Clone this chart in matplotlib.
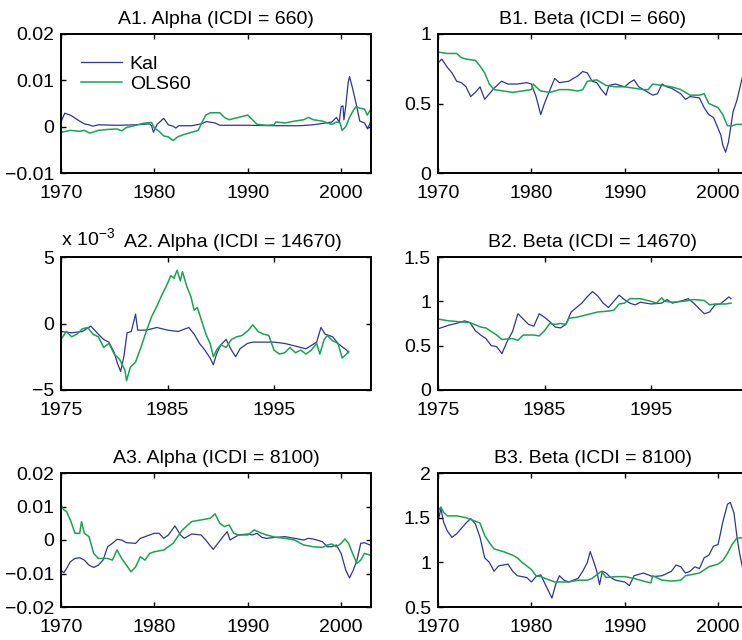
import numpy as np
import matplotlib
matplotlib.use('Agg')
import matplotlib.pyplot as plt

plt.rcParams['font.family'] = ['Liberation Sans', 'DejaVu Sans']
plt.rcParams['font.size'] = 14
plt.rcParams['mathtext.fontset'] = 'custom'
plt.rcParams['mathtext.rm'] = 'Liberation Sans'

BLUE = '#2f3497'
GREEN = '#1aa350'
FS = 14

# (year, value) pairs
a1_kal = [(1970.0, 0.0010), (1970.4, 0.0029), (1971.0, 0.0025), (1972.0, 0.0012), (1972.5, 0.0006),
          (1973.0, 0.0004), (1973.4, 0.0001), (1974.0, 0.0004), (1976.0, 0.0003), (1978.0, 0.0004),
          (1979.5, 0.0006), (1979.7, 0.0002), (1979.9, -0.0012), (1980.3, 0.0005), (1981.0, 0.0018),
          (1981.5, 0.0004), (1982.0, 0.0001), (1982.3, -0.0003), (1982.6, 0.0002), (1984.0, 0.0002),
          (1985.0, 0.0006), (1985.6, 0.0011), (1986.5, 0.0008), (1987.0, 0.0003), (1990.0, 0.0003),
          (1993.0, 0.0002), (1995.5, 0.0002), (1997.0, 0.0004), (1999.0, 0.0010), (1999.5, 0.0020),
          (1999.8, 0.0010), (2000.0, 0.0043), (2000.2, 0.0045), (2000.3, 0.0015), (2000.5, 0.0045),
          (2000.75, 0.0095), (2000.9, 0.0108), (2001.2, 0.0085), (2001.6, 0.0050), (2002.0, 0.0012),
          (2002.5, 0.0008), (2002.85, -0.0005), (2003.1, 0.0008)]
a1_ols = [(1970.0, -0.0012), (1971.0, -0.0008), (1972.0, -0.0010), (1972.5, -0.0008), (1973.1, -0.0014),
          (1974.0, -0.0008), (1975.0, -0.0006), (1976.0, -0.0005), (1976.5, -0.0009), (1977.0, -0.0002),
          (1978.0, 0.0003), (1979.0, 0.0008), (1979.7, 0.0009), (1980.0, -0.0003), (1980.5, -0.0010),
          (1981.0, -0.0020), (1981.5, -0.0022), (1982.0, -0.0030), (1982.5, -0.0022), (1983.0, -0.0018),
          (1984.0, -0.0012), (1984.7, -0.0008), (1985.0, 0.0005), (1985.5, 0.0025), (1986.0, 0.0030),
          (1987.0, 0.0030), (1987.5, 0.0020), (1988.0, 0.0015), (1989.0, 0.0020), (1990.0, 0.0025),
          (1990.5, 0.0015), (1991.0, 0.0005), (1992.0, 0.0003), (1992.8, 0.0004), (1993.0, 0.0010),
          (1994.0, 0.0008), (1995.0, 0.0012), (1996.0, 0.0015), (1996.5, 0.0020), (1997.0, 0.0015),
          (1998.0, 0.0012), (1999.0, 0.0005), (1999.5, 0.0010), (1999.9, 0.0008), (2000.1, -0.0008),
          (2000.5, 0.0000), (2000.9, 0.0020), (2001.3, 0.0035), (2001.6, 0.0043), (2002.0, 0.0040),
          (2002.5, 0.0038), (2002.8, 0.0025), (2003.1, 0.0035)]

b1_kal = [(1970.0, 0.79), (1970.4, 0.82), (1971.0, 0.76), (1971.5, 0.72), (1972.0, 0.66), (1972.5, 0.65),
          (1973.0, 0.62), (1973.5, 0.55), (1974.0, 0.58), (1974.5, 0.62), (1975.0, 0.53), (1975.5, 0.57),
          (1976.0, 0.61), (1976.8, 0.66), (1977.5, 0.64), (1978.5, 0.64), (1979.5, 0.65), (1980.0, 0.64),
          (1980.5, 0.55), (1981.0, 0.42), (1981.4, 0.50), (1982.0, 0.60), (1982.5, 0.68), (1983.0, 0.65),
          (1984.0, 0.66), (1984.5, 0.68), (1985.0, 0.70), (1985.5, 0.73), (1986.0, 0.72), (1986.5, 0.66),
          (1987.0, 0.65), (1987.5, 0.60), (1988.0, 0.56), (1988.3, 0.63), (1989.0, 0.64), (1990.0, 0.62),
          (1990.5, 0.65), (1991.0, 0.67), (1991.5, 0.62), (1992.0, 0.60), (1993.0, 0.56), (1993.5, 0.57),
          (1994.0, 0.64), (1994.5, 0.62), (1995.0, 0.61), (1995.5, 0.59), (1996.0, 0.57), (1996.5, 0.53),
          (1997.0, 0.55), (1998.0, 0.54), (1998.5, 0.47), (1999.0, 0.42), (1999.5, 0.40), (2000.0, 0.32),
          (2000.3, 0.27), (2000.5, 0.20), (2000.8, 0.15), (2001.1, 0.22), (2001.6, 0.44), (2002.0, 0.52),
          (2002.6, 0.69), (2003.1, 0.85)]
b1_ols = [(1970.0, 0.87), (1971.0, 0.86), (1972.0, 0.86), (1972.5, 0.83), (1973.0, 0.82), (1974.0, 0.81),
          (1974.5, 0.77), (1975.0, 0.72), (1975.5, 0.64), (1976.0, 0.60), (1977.0, 0.59), (1978.0, 0.58),
          (1979.0, 0.59), (1980.0, 0.60), (1980.2, 0.64), (1980.5, 0.62), (1981.0, 0.59), (1982.0, 0.58),
          (1982.5, 0.59), (1983.0, 0.60), (1984.0, 0.60), (1985.0, 0.59), (1985.5, 0.60), (1986.0, 0.66),
          (1987.0, 0.67), (1987.5, 0.65), (1988.0, 0.63), (1989.0, 0.62), (1990.0, 0.62), (1991.0, 0.61),
          (1992.0, 0.60), (1992.5, 0.60), (1993.0, 0.64), (1994.0, 0.63), (1995.0, 0.62), (1996.0, 0.60),
          (1997.0, 0.56), (1998.0, 0.56), (1998.5, 0.57), (1999.0, 0.50), (2000.0, 0.47), (2000.5, 0.42),
          (2001.0, 0.34), (2001.5, 0.34), (2002.0, 0.35), (2003.1, 0.35)]

# panel A2 is in units of 1e-3
a2_kal = [(1975.0, -0.6), (1976.0, -0.7), (1977.0, -0.6), (1977.8, -0.2), (1978.5, -0.8), (1979.0, -1.2),
          (1979.5, -1.4), (1980.0, -2.2), (1980.3, -3.0), (1980.6, -3.6), (1980.9, -2.5), (1981.2, -0.7),
          (1981.6, -0.6), (1982.0, 0.7), (1982.2, -0.5), (1983.0, -0.5), (1984.0, -0.3), (1985.0, -0.5),
          (1986.0, -0.6), (1987.0, -0.3), (1987.5, -0.8), (1988.0, -1.5), (1988.5, -2.0), (1989.0, -2.6),
          (1989.3, -3.1), (1989.6, -2.3), (1990.0, -1.6), (1990.5, -1.2), (1991.0, -2.0), (1991.4, -2.5),
          (1991.8, -1.9), (1992.5, -1.5), (1993.0, -1.4), (1994.0, -1.4), (1995.0, -1.4), (1996.0, -1.5),
          (1997.0, -1.7), (1998.0, -1.9), (1999.0, -1.4), (1999.4, -0.3), (1999.8, -0.8), (2000.5, -1.0),
          (2001.0, -1.5), (2001.8, -2.0), (2002.0, -2.2)]
a2_ols = [(1975.0, -1.2), (1975.5, -0.6), (1976.0, -1.0), (1976.5, -0.8), (1977.0, -0.4), (1977.5, -0.3),
          (1978.0, -0.8), (1978.5, -1.0), (1979.0, -1.8), (1979.5, -1.5), (1980.0, -2.3), (1980.5, -2.7),
          (1981.0, -3.5), (1981.15, -4.3), (1981.5, -3.3), (1982.0, -2.9), (1982.5, -1.8), (1983.0, -0.6),
          (1983.5, 0.5), (1984.0, 1.3), (1984.5, 2.2), (1985.0, 3.0), (1985.3, 3.6), (1985.6, 3.4),
          (1985.9, 4.0), (1986.2, 3.2), (1986.4, 3.9), (1986.8, 2.8), (1987.2, 2.0), (1987.5, 1.0),
          (1987.8, 1.2), (1988.2, 0.2), (1988.6, -0.8), (1989.0, -1.5), (1989.3, -2.5), (1989.6, -2.0),
          (1990.0, -1.6), (1990.5, -1.8), (1991.0, -1.2), (1991.5, -1.0), (1992.0, -0.9), (1992.6, -0.5),
          (1993.0, -0.1), (1993.5, -0.6), (1994.0, -0.8), (1994.5, -0.9), (1995.0, -2.0), (1995.5, -2.3),
          (1996.0, -2.2), (1996.5, -1.8), (1997.0, -2.2), (1997.5, -2.0), (1998.0, -2.3), (1998.5, -2.0),
          (1999.0, -1.5), (1999.3, -2.3), (1999.7, -1.2), (2000.0, -0.9), (2000.5, -1.3), (2001.0, -1.5),
          (2001.4, -2.6), (2001.8, -2.3), (2002.0, -2.1)]

b2_kal = [(1975.0, 0.69), (1976.0, 0.73), (1977.0, 0.76), (1977.5, 0.78), (1978.0, 0.76), (1978.5, 0.67),
          (1979.0, 0.62), (1979.5, 0.58), (1980.0, 0.50), (1980.5, 0.49), (1981.0, 0.41), (1981.5, 0.55),
          (1982.0, 0.66), (1982.5, 0.86), (1983.0, 0.80), (1983.5, 0.74), (1984.0, 0.72), (1984.5, 0.86),
          (1985.0, 0.82), (1985.5, 0.77), (1986.0, 0.71), (1986.5, 0.70), (1987.0, 0.74), (1987.5, 0.88),
          (1988.0, 0.93), (1988.5, 0.98), (1989.0, 1.05), (1989.5, 1.11), (1990.0, 1.06), (1990.5, 0.98),
          (1991.0, 0.93), (1991.5, 1.00), (1992.0, 1.07), (1992.5, 1.02), (1993.0, 0.98), (1993.5, 0.96),
          (1994.0, 0.99), (1995.0, 0.97), (1996.0, 0.98), (1996.5, 1.02), (1997.0, 0.98), (1998.0, 1.01),
          (1998.5, 1.03), (1999.0, 0.98), (1999.5, 0.92), (2000.0, 0.86), (2000.5, 0.88), (2001.0, 0.96),
          (2001.5, 0.97), (2002.0, 1.02), (2002.3, 1.05), (2002.5, 1.03)]
b2_ols = [(1975.0, 0.80), (1976.0, 0.78), (1977.0, 0.77), (1978.0, 0.76), (1979.0, 0.71), (1979.5, 0.70),
          (1980.0, 0.66), (1980.5, 0.62), (1981.0, 0.57), (1982.0, 0.58), (1982.5, 0.56), (1983.0, 0.62),
          (1984.0, 0.62), (1984.5, 0.61), (1985.0, 0.67), (1985.5, 0.75), (1986.0, 0.74), (1986.5, 0.75),
          (1987.0, 0.74), (1987.3, 0.81), (1988.0, 0.82), (1989.0, 0.85), (1990.0, 0.88), (1991.0, 0.89),
          (1991.5, 0.90), (1992.0, 0.97), (1992.5, 0.98), (1993.0, 1.03), (1994.0, 1.03), (1995.0, 1.00),
          (1995.5, 0.98), (1996.0, 1.04), (1996.3, 1.00), (1997.0, 0.99), (1998.0, 1.00), (1999.0, 1.02),
          (2000.0, 1.01), (2000.5, 0.96), (2001.0, 0.97), (2002.0, 0.97), (2002.5, 0.98)]

a3_kal = [(1970.0, -0.0090), (1970.3, -0.0098), (1970.7, -0.0080), (1971.0, -0.0065), (1971.5, -0.0055),
          (1972.0, -0.0053), (1972.5, -0.0060), (1973.0, -0.0075), (1973.5, -0.0082), (1974.0, -0.0075),
          (1974.5, -0.0060), (1975.0, -0.0020), (1975.5, -0.0010), (1976.0, 0.0002), (1976.5, 0.0000),
          (1977.0, -0.0008), (1978.0, -0.0010), (1978.5, 0.0005), (1979.0, 0.0010), (1980.0, 0.0020),
          (1980.5, 0.0020), (1981.0, 0.0005), (1981.5, 0.0015), (1982.2, 0.0042), (1982.8, 0.0015),
          (1983.2, 0.0005), (1984.0, 0.0018), (1985.0, 0.0015), (1985.5, 0.0000), (1986.3, -0.0028),
          (1986.8, -0.0010), (1987.5, 0.0015), (1987.8, 0.0025), (1988.1, 0.0000), (1989.0, 0.0015),
          (1990.0, 0.0018), (1990.5, 0.0015), (1991.0, 0.0020), (1991.5, 0.0008), (1992.0, 0.0005),
          (1993.0, 0.0008), (1994.0, 0.0010), (1995.0, 0.0005), (1996.0, 0.0000), (1996.5, 0.0005),
          (1997.0, 0.0003), (1998.0, -0.0005), (1998.5, -0.0020), (1999.0, -0.0020), (1999.5, -0.0015),
          (2000.0, -0.0040), (2000.5, -0.0090), (2000.9, -0.0113), (2001.3, -0.0090), (2001.7, -0.0060),
          (2002.1, -0.0010), (2002.5, -0.0008), (2003.1, -0.0015)]
a3_ols = [(1970.0, 0.0105), (1970.3, 0.0090), (1970.6, 0.0085), (1971.0, 0.0060), (1971.5, 0.0020),
          (1972.0, 0.0020), (1972.2, 0.0055), (1972.5, 0.0020), (1973.0, 0.0010), (1973.5, -0.0040),
          (1974.0, -0.0055), (1975.0, -0.0055), (1975.5, -0.0060), (1976.0, -0.0030), (1976.5, -0.0055),
          (1977.0, -0.0075), (1977.5, -0.0095), (1978.0, -0.0080), (1978.5, -0.0050), (1979.0, -0.0060),
          (1979.5, -0.0040), (1980.0, -0.0035), (1981.0, -0.0030), (1981.5, -0.0020), (1982.0, -0.0010),
          (1982.5, 0.0010), (1983.0, 0.0030), (1984.0, 0.0055), (1985.0, 0.0060), (1986.0, 0.0065),
          (1986.5, 0.0078), (1987.0, 0.0050), (1987.5, 0.0040), (1988.0, 0.0045), (1988.5, 0.0020),
          (1989.0, 0.0015), (1990.0, 0.0015), (1990.7, 0.0030), (1991.5, 0.0020), (1992.0, 0.0015),
          (1993.0, 0.0008), (1994.0, 0.0005), (1995.0, 0.0000), (1996.0, -0.0015), (1997.0, -0.0020),
          (1998.0, -0.0022), (1998.5, -0.0015), (1999.0, -0.0012), (1999.5, -0.0020), (2000.0, -0.0010),
          (2000.4, 0.0003), (2000.8, -0.0010), (2001.3, -0.0045), (2001.7, -0.0070), (2002.1, -0.0060),
          (2002.5, -0.0040), (2003.1, -0.0045)]

b3_kal = [(1970.0, 1.45), (1970.3, 1.60), (1970.6, 1.45), (1971.0, 1.35), (1971.5, 1.28), (1972.0, 1.32),
          (1972.5, 1.38), (1973.0, 1.44), (1973.5, 1.49), (1974.0, 1.43), (1974.5, 1.28), (1975.0, 1.05),
          (1975.5, 1.00), (1976.0, 0.90), (1976.5, 0.96), (1977.0, 0.97), (1977.5, 0.98), (1978.0, 0.90),
          (1978.5, 0.85), (1979.0, 0.84), (1979.5, 0.83), (1980.0, 0.78), (1980.5, 0.84), (1981.0, 0.86),
          (1981.5, 0.75), (1982.2, 0.60), (1982.6, 0.75), (1983.0, 0.85), (1983.5, 0.80), (1984.0, 0.78),
          (1985.0, 0.82), (1985.5, 0.90), (1986.0, 1.00), (1986.3, 1.12), (1986.7, 1.00), (1987.0, 0.90),
          (1987.3, 0.75), (1987.6, 0.90), (1988.0, 0.88), (1988.5, 0.83), (1989.0, 0.80), (1990.0, 0.78),
          (1990.5, 0.74), (1991.0, 0.85), (1992.0, 0.88), (1993.0, 0.84), (1994.0, 0.85), (1995.0, 0.90),
          (1995.5, 0.97), (1996.0, 0.95), (1996.5, 0.88), (1997.0, 0.90), (1997.5, 0.95), (1998.0, 0.93),
          (1998.5, 1.05), (1999.0, 1.08), (1999.5, 1.18), (2000.0, 1.20), (2000.5, 1.45), (2001.0, 1.65),
          (2001.3, 1.67), (2001.7, 1.55), (2002.0, 1.30), (2002.3, 1.10), (2002.6, 0.95), (2003.1, 0.85)]
b3_ols = [(1970.0, 1.57), (1970.3, 1.62), (1970.6, 1.56), (1971.0, 1.52), (1972.0, 1.52), (1973.0, 1.50),
          (1973.5, 1.48), (1974.0, 1.46), (1974.5, 1.44), (1975.0, 1.30), (1975.5, 1.22), (1976.0, 1.15),
          (1977.0, 1.12), (1978.0, 1.08), (1978.5, 1.05), (1979.0, 1.00), (1980.0, 0.92), (1980.5, 0.85),
          (1981.0, 0.84), (1982.0, 0.80), (1982.5, 0.78), (1983.0, 0.78), (1984.0, 0.78), (1985.0, 0.80),
          (1986.0, 0.80), (1986.5, 0.82), (1987.0, 0.86), (1987.5, 0.90), (1988.0, 0.83), (1989.0, 0.84),
          (1990.0, 0.84), (1991.0, 0.82), (1992.0, 0.79), (1992.8, 0.77), (1993.0, 0.85), (1994.0, 0.80),
          (1995.0, 0.79), (1996.0, 0.80), (1996.5, 0.85), (1997.0, 0.86), (1998.0, 0.88), (1999.0, 0.95),
          (2000.0, 0.98), (2000.5, 1.02), (2001.0, 1.10), (2001.5, 1.20), (2002.0, 1.27), (2003.1, 1.28)]

titles = ['A1. Alpha (ICDI = 660)', 'B1. Beta (ICDI = 660)',
          'A2. Alpha (ICDI = 14670)', 'B2. Beta (ICDI = 14670)',
          'A3. Alpha (ICDI = 8100)', 'B3. Beta (ICDI = 8100)']
series = [(a1_kal, a1_ols), (b1_kal, b1_ols), (a2_kal, a2_ols),
          (b2_kal, b2_ols), (a3_kal, a3_ols), (b3_kal, b3_ols)]
yticks = [[-0.01, 0, 0.01, 0.02], [0, 0.5, 1], [-5, 0, 5],
          [0, 0.5, 1, 1.5], [-0.02, -0.01, 0, 0.01, 0.02], [0.5, 1, 1.5, 2]]
yticklabels = [['\u22120.01', '0', '0.01', '0.02'], ['0', '0.5', '1'], ['\u22125', '0', '5'],
               ['0', '0.5', '1', '1.5'], ['\u22120.02', '\u22120.01', '0', '0.01', '0.02'],
               ['0.5', '1', '1.5', '2']]
xticks_outer = [1970, 1980, 1990, 2000]
xticks_mid = [1975, 1985, 1995]

W, H = 742.0, 640.0
fig = plt.figure(figsize=(7.42, 6.4), dpi=100)

# axes boxes in pixels: left, top, right, bottom
col_x = [(61, 371), (438, 748)]
row_y = [(34, 173), (257, 390), (473, 607)]

for i in range(6):
    r, c = divmod(i, 2)
    x0, x1 = col_x[c]
    y0, y1 = row_y[r]
    ax = fig.add_axes([x0 / W, 1 - y1 / H, (x1 - x0) / W, (y1 - y0) / H])
    kal, ols = series[i]
    t, v = np.array(kal).T
    ax.plot(t, v, color=BLUE, lw=0.9, label='Kal')
    t, v = np.array(ols).T
    ax.plot(t, v, color=GREEN, lw=1.1, label='OLS60')

    if r == 1:
        ax.set_xlim(1975, 2004.1)
        ax.set_xticks(xticks_mid)
    else:
        ax.set_xlim(1970, 2003.2)
        ax.set_xticks(xticks_outer)
    ax.set_xticklabels([str(x) for x in ax.get_xticks()])
    ax.set_yticks(yticks[i])
    ax.set_yticklabels(yticklabels[i])
    ax.set_ylim(yticks[i][0], yticks[i][-1])

    ax.tick_params(direction='in', top=True, right=True, length=3.5, width=1.0,
                   labelsize=FS)
    ax.tick_params(axis='x', pad=8.5)
    ax.tick_params(axis='y', pad=5)
    for s in ax.spines.values():
        s.set_linewidth(1.4)

    if i == 2:
        ax.set_title(titles[i], fontsize=FS, x=0.555, pad=7)
        ax.text(0.0, 1.05, r'x 10$^{\mathregular{-3}}$', transform=ax.transAxes,
                fontsize=FS, ha='left', va='bottom')
    else:
        ax.set_title(titles[i], fontsize=FS, pad=7)

    if i == 0:
        ax.legend(loc='upper left', bbox_to_anchor=(0.04, 0.9), frameon=False,
                  handlelength=2.1, handletextpad=0.4, labelspacing=0.1,
                  borderaxespad=0, fontsize=FS)

fig.savefig('out.png', dpi=100)
